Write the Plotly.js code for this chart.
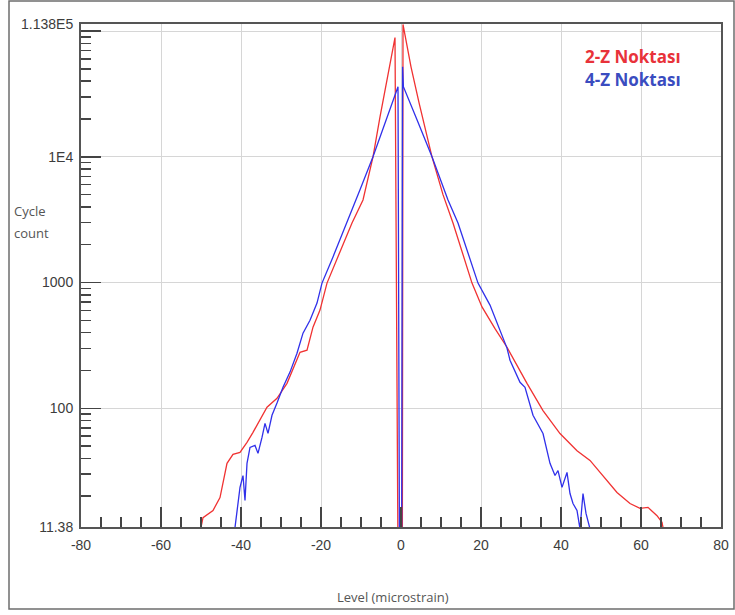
<!DOCTYPE html>
<html>
<head>
<meta charset="utf-8">
<script src="https://cdn.plot.ly/plotly-3.0.1.min.js"></script>
<style>html,body{margin:0;padding:0;background:#fff;}#chart{width:735px;height:615px;}</style>
</head>
<body>
<div id="chart"></div>
<script>
// Series 2-Z Noktası (red): level (microstrain) vs cycle count
const redLevel = [-50, -49.5, -47, -45.25, -43.5, -42, -40.25, -38.5, -37, -34.5, -33.5, -31, -28.5, -25.25, -23.5, -22, -20.25, -18.5, -15.75, -12.25, -9.5, -7, -5.25, -3.25, -1.5, -0.6, 0.3, 0.5, 2.5, 4.5, 7.75, 10.5, 13, 17.75, 20.25, 23.5, 26.5, 31.5, 35.5, 39.75, 44, 47.25, 51.5, 54, 57.25, 59.75, 61.75, 64, 65.25, 65.5];
const redCount = [11.3, 13.5, 15.4, 19.5, 36.5, 43, 44.6, 53.6, 64.4, 88, 102, 120, 158, 279, 290, 442, 604, 990, 1600, 2980, 4540, 10000, 20800, 45000, 88700, 1, 1, 113000, 52000, 27000, 10000, 5000, 2980, 990, 640, 430, 306, 158, 96, 63, 46, 38.5, 26.7, 21.4, 17.5, 16, 16.3, 14, 12.4, 11.3];

// Series 4-Z Noktası (blue)
const blueLevel = [-41.5, -41, -40.25, -39.5, -39, -38.5, -37.75, -36.5, -35.75, -34.75, -34, -33.25, -32.25, -31, -29.5, -27.75, -26, -24.5, -22.75, -21, -19.75, -17, -13.5, -10.25, -7, -3.5, -0.75, -0.3, 0.1, 0.4, 0.6, 4, 7.75, 11.75, 14.25, 19.25, 22.25, 26.5, 27.25, 29.75, 31, 33, 35.5, 37.25, 38.5, 39.25, 40.25, 41.5, 42.25, 43, 44, 44.75, 45.5, 46.25, 47.25];
const blueCount = [11.3, 15.4, 23.5, 29.2, 18.5, 36.5, 48.9, 50.7, 43.8, 58.7, 75.9, 63.2, 88, 110, 147, 194, 274, 396, 502, 687, 990, 1600, 2980, 5460, 10000, 20800, 36100, 1, 1, 52100, 36100, 19700, 10000, 4540, 2980, 990, 662, 301, 241, 161, 147, 88, 63, 36.5, 29.2, 32, 23.5, 30.9, 21, 17.5, 15.4, 11, 21, 14.6, 11];

const seriesNames = ['2-Z Noktası', '4-Z Noktası'];
const xTickVals = [-80, -60, -40, -20, 0, 20, 40, 60, 80];
const xTickText = ['-80', '-60', '-40', '-20', '0', '20', '40', '60', '80'];
const yTickVals = [11.38, 100, 1000, 10000, 100000, 113800];
const yTickText = ['11.38', '100', '1000', '1E4', '', '1.138E5'];

// minor tick positions on log axis (digits 2..9 of each decade)
const yMinor = [];
for (let d = 10; d <= 100000; d *= 10) {
  for (let k = 2; k <= 9; k++) { const v = k * d; if (v > 11.38 && v < 113800) yMinor.push(v); }
}

const tickFont = {family: 'Liberation Sans, Arial, sans-serif', size: 14, color: '#3c3c3c'};

const traces = [
  {x: redLevel, y: redCount, type: 'scatter', mode: 'lines', name: seriesNames[0],
   line: {color: '#f03232', width: 1.3}},
  {x: blueLevel, y: blueCount, type: 'scatter', mode: 'lines', name: seriesNames[1],
   line: {color: '#3030ea', width: 1.3}}
];

const L = 81, R = 721, T = 24, B = 527;
const px = v => (v - L) / (R - L);
const py = v => (B - v) / (B - T);

const layout = {
  width: 735, height: 615,
  margin: {l: L, r: 735 - R, t: T, b: 615 - B},
  paper_bgcolor: '#ffffff', plot_bgcolor: '#ffffff',
  showlegend: false,
  xaxis: {
    range: [-80, 80], tickmode: 'array', tickvals: xTickVals, ticktext: xTickText,
    ticks: 'inside', ticklen: 20, tickwidth: 1.5, tickcolor: '#444',
    showgrid: true, gridcolor: '#d6d6d6', gridwidth: 1, zeroline: false,
    showline: true, linecolor: '#555', linewidth: 2, mirror: true,
    tickfont: tickFont, ticklabelstandoff: 4,
    minor: {dtick: 5, tick0: 0, ticks: 'inside', ticklen: 10, tickwidth: 1.5, tickcolor: '#444', showgrid: false}
  },
  yaxis: {
    type: 'log', range: [Math.log10(11.38), Math.log10(113800)],
    tickmode: 'array', tickvals: yTickVals, ticktext: yTickText,
    ticks: 'inside', ticklen: 20, tickwidth: 1.5, tickcolor: '#444',
    showgrid: true, gridcolor: '#d6d6d6', gridwidth: 1, zeroline: false,
    showline: true, linecolor: '#555', linewidth: 2, mirror: true,
    tickfont: tickFont, ticklabelstandoff: 3,
    minor: {tickmode: 'array', tickvals: yMinor, ticks: 'inside', ticklen: 10, tickwidth: 1.5, tickcolor: '#444', showgrid: false}
  },
  annotations: [
    {xref: 'paper', yref: 'paper', x: px(583), y: py(57), xanchor: 'left', yanchor: 'middle', showarrow: false,
     text: '<b>' + seriesNames[0] + '</b>', font: {family: 'Open Sans, sans-serif', size: 17, color: '#e8323a'}},
    {xref: 'paper', yref: 'paper', x: px(583), y: py(80), xanchor: 'left', yanchor: 'middle', showarrow: false,
     text: '<b>' + seriesNames[1] + '</b>', font: {family: 'Open Sans, sans-serif', size: 17, color: '#3a4cc0'}},
    {xref: 'paper', yref: 'paper', x: px(393), y: py(597), xanchor: 'center', yanchor: 'middle', showarrow: false,
     text: 'Level (microstrain)', font: {family: 'Open Sans, sans-serif', size: 13, color: '#555'}},
    {xref: 'paper', yref: 'paper', x: px(12), y: py(211), xanchor: 'left', yanchor: 'middle', showarrow: false,
     text: 'Cycle', font: {family: 'Open Sans, sans-serif', size: 13, color: '#555'}},
    {xref: 'paper', yref: 'paper', x: px(12), y: py(233), xanchor: 'left', yanchor: 'middle', showarrow: false,
     text: 'count', font: {family: 'Open Sans, sans-serif', size: 13, color: '#555'}}
  ],
  shapes: [
    {type: 'rect', xref: 'paper', yref: 'paper', x0: px(9), x1: px(734), y0: py(609), y1: py(1),
     line: {color: '#6e6e6e', width: 1.5}, fillcolor: 'rgba(0,0,0,0)', layer: 'below'}
  ]
};

Plotly.newPlot('chart', traces, layout, {displayModeBar: false, staticPlot: true});
</script>
</body>
</html>
